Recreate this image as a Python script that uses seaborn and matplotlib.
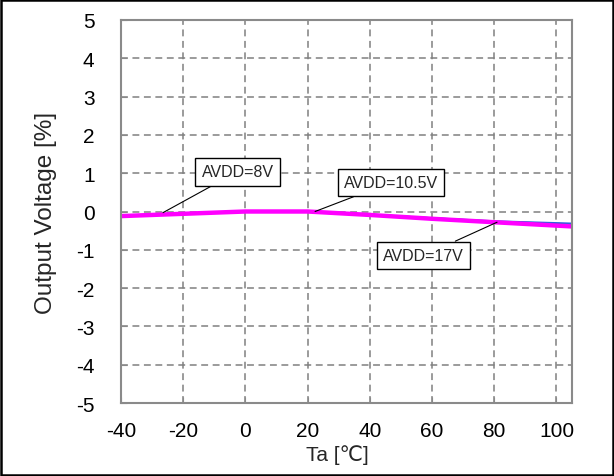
import pandas as pd
import matplotlib.pyplot as plt
import seaborn as sns

# Dados
temperatura = [-40, -20, 0, 20, 40, 60, 80, 105]
avdd_8v = [-0.11, -0.05, 0.0, 0.0, -0.08, -0.17, -0.26, -0.33]
avdd_10v5 = [-0.11, -0.05, 0.0, 0.0, -0.08, -0.17, -0.25, -0.31]
avdd_17v = [-0.12, -0.06, 0.0, 0.0, -0.09, -0.19, -0.28, -0.39]

series = {'AVDD=8V': avdd_8v, 'AVDD=10.5V': avdd_10v5, 'AVDD=17V': avdd_17v}
cores = {'AVDD=8V': '#00a050', 'AVDD=10.5V': '#3060e0', 'AVDD=17V': '#ff00ff'}
larguras = {'AVDD=8V': 1.2, 'AVDD=10.5V': 1.2, 'AVDD=17V': 3.2}

df = pd.concat([pd.DataFrame({'Ta': temperatura, 'V': v, 'serie': nome})
                for nome, v in series.items()])

sns.set_style('white')
plt.rcParams['font.family'] = ['Liberation Sans', 'DejaVu Sans']
plt.rcParams['axes.unicode_minus'] = False

fig = plt.figure(figsize=(6.14, 4.77), dpi=100)
ax = fig.add_axes([121 / 614, 73 / 477, 451 / 614, 383 / 477])

for nome in series:
    sns.lineplot(data=df[df['serie'] == nome], x='Ta', y='V', ax=ax,
                 color=cores[nome], linewidth=larguras[nome], legend=False)

ax.set_xlim(-40, 105)
ax.set_ylim(-5, 5)
ax.set_xticks(range(-40, 101, 20))
ax.set_yticks(range(-5, 6))
ax.grid(True, color='#808080', linestyle=(0, (4.5, 3)), linewidth=1.1)
for s in ax.spines.values():
    s.set_color('#8a8a8a')
    s.set_linewidth(1.5)
ax.tick_params(direction='in', length=4, color='#8a8a8a', labelsize=15,
               labelcolor='black', bottom=True, left=True)
ax.tick_params(axis='x', pad=13)
ax.tick_params(axis='y', pad=19)
ax.set_xlabel('Ta [℃]', fontsize=15, labelpad=3, x=0.48)
ax.set_ylabel('Output Voltage [%]', fontsize=17.5, labelpad=14)

# Anotações com caixa
caixa = dict(boxstyle='square,pad=0.4', fc='white', ec='black', lw=1)
seta = dict(arrowstyle='-', color='black', lw=0.8, shrinkA=0, shrinkB=0)
ax.annotate('AVDD=8V', xy=(-26.5, -0.03), xytext=(-2.5, 1.04),
            fontsize=11.5, bbox=caixa, arrowprops=seta, ha='center', va='center',
            zorder=5)
ax.annotate('AVDD=10.5V', xy=(22.4, 0.0), xytext=(46.8, 0.76),
            fontsize=11.5, bbox=caixa, arrowprops=seta, ha='center', va='center',
            zorder=5)
ax.annotate('AVDD=17V', xy=(80.9, -0.28), xytext=(57.3, -1.15),
            fontsize=11.5, bbox=caixa, arrowprops=seta, ha='center', va='center',
            zorder=5)

# Borda da figura
fig.patches.append(plt.Rectangle((0.002, 0.002), 0.996, 0.996, transform=fig.transFigure,
                                 fill=False, edgecolor='black', linewidth=1.8))

fig.savefig('out.png', dpi=100)
